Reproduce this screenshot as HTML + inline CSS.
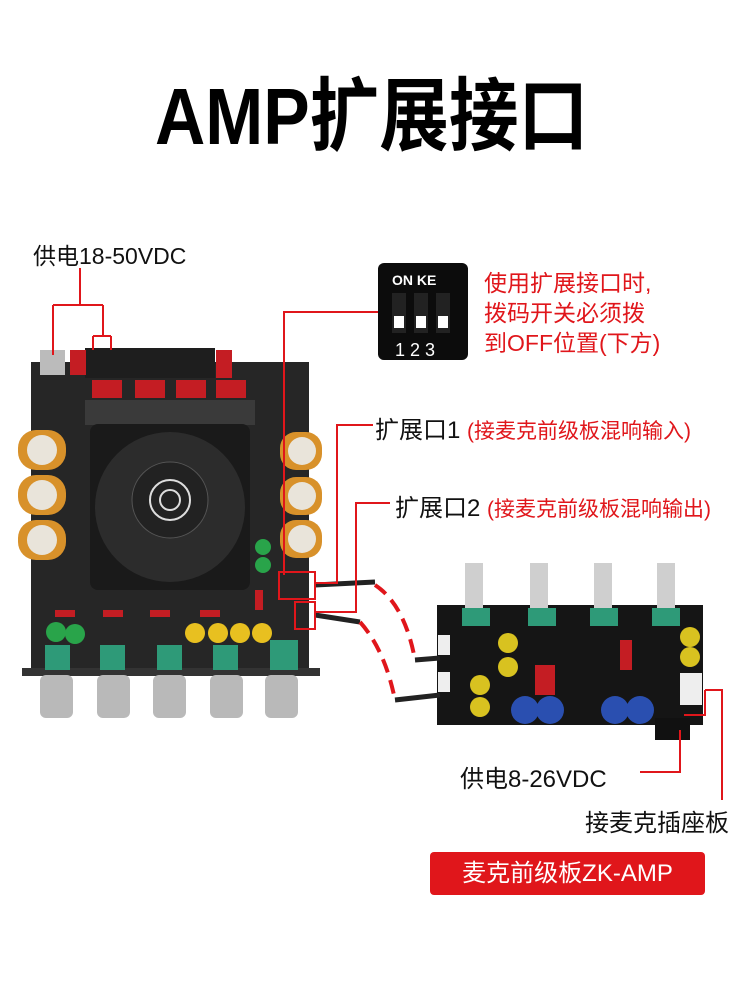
<!DOCTYPE html><html><head><meta charset="utf-8"><style>
body{margin:0;width:750px;height:1000px;background:#fff;position:relative;overflow:hidden;font-family:"Liberation Sans","Noto Sans CJK SC",sans-serif}
.t{position:absolute;white-space:nowrap}
</style></head><body>
<div class="t" style="left:155px;top:52px;font-size:80px;font-weight:bold;color:#000;transform:scaleX(0.87);transform-origin:0 0">AMP扩展接口</div>
<div class="t" style="left:33px;top:237px;font-size:23px;color:#111">供电18-50VDC</div>
<div class="t" style="left:484px;top:268px;font-size:23px;line-height:30px;color:#e0161b">使用扩展接口时,<br>拨码开关必须拨<br>到OFF位置(下方)</div>
<div class="t" style="left:375px;top:410px;font-size:24px;color:#111">扩展口1 <span style="color:#e0161b;font-size:21px">(接麦克前级板混响输入)</span></div>
<div class="t" style="left:395px;top:488px;font-size:24px;color:#111">扩展口2 <span style="color:#e0161b;font-size:21px">(接麦克前级板混响输出)</span></div>
<div class="t" style="left:460px;top:759px;font-size:24px;color:#111">供电8-26VDC</div>
<div class="t" style="left:585px;top:803px;font-size:24px;color:#111">接麦克插座板</div>
<div class="t" style="left:430px;top:852px;width:275px;height:43px;background:#e0161b;border-radius:4px;color:#fff;font-size:24px;line-height:43px;text-align:center">麦克前级板ZK-AMP</div>
<svg width="750" height="1000" style="position:absolute;left:0;top:0">
<rect x="378" y="263" width="90" height="97" rx="6" fill="#0c0c0c"/>
<text x="392" y="285" fill="#fff" font-size="14" font-family="Liberation Sans" font-weight="bold">ON KE</text>
<rect x="392" y="293" width="14" height="40" fill="#222"/><rect x="414" y="293" width="14" height="40" fill="#222"/><rect x="436" y="293" width="14" height="40" fill="#222"/>
<rect x="394" y="316" width="10" height="12" fill="#fff"/><rect x="416" y="316" width="10" height="12" fill="#fff"/><rect x="438" y="316" width="10" height="12" fill="#fff"/>
<text x="395" y="356" fill="#fff" font-size="18" font-family="Liberation Sans">1 2 3</text>
<rect x="31" y="362" width="278" height="308" fill="#262626"/>
<rect x="22" y="668" width="298" height="8" fill="#333"/>
<rect x="85" y="348" width="130" height="30" fill="#1e1e1e"/>
<rect x="70" y="350" width="16" height="25" fill="#c41d23"/><rect x="216" y="350" width="16" height="28" fill="#c41d23"/>
<rect x="92" y="380" width="30" height="18" fill="#c41d23"/><rect x="135" y="380" width="30" height="18" fill="#c41d23"/><rect x="176" y="380" width="30" height="18" fill="#c41d23"/><rect x="216" y="380" width="30" height="18" fill="#c41d23"/>
<rect x="40" y="350" width="25" height="25" fill="#bbb"/>
<rect x="85" y="400" width="170" height="25" fill="#3a3a3a"/>
<rect x="90" y="424" width="160" height="166" rx="8" fill="#1a1a1a"/>
<circle cx="170" cy="507" r="75" fill="#2c2c2c"/><circle cx="170" cy="500" r="38" fill="#222" stroke="#555"/>
<circle cx="170" cy="500" r="20" fill="none" stroke="#ddd" stroke-width="2"/><circle cx="170" cy="500" r="10" fill="none" stroke="#ddd" stroke-width="2"/>
<g fill="#d8912a"><rect x="18" y="430" width="48" height="40" rx="18"/><rect x="18" y="475" width="48" height="40" rx="18"/><rect x="18" y="520" width="48" height="40" rx="18"/>
<rect x="280" y="432" width="42" height="38" rx="16"/><rect x="280" y="477" width="42" height="38" rx="16"/><rect x="280" y="520" width="42" height="38" rx="16"/></g>
<g fill="#e9e4da"><circle cx="42" cy="450" r="15"/><circle cx="42" cy="495" r="15"/><circle cx="42" cy="540" r="15"/><circle cx="302" cy="451" r="14"/><circle cx="302" cy="496" r="14"/><circle cx="302" cy="539" r="14"/></g>
<g fill="#29a44a"><circle cx="56" cy="632" r="10"/><circle cx="75" cy="634" r="10"/><circle cx="263" cy="547" r="8"/><circle cx="263" cy="565" r="8"/></g>
<g fill="#e8c020"><circle cx="195" cy="633" r="10"/><circle cx="218" cy="633" r="10"/><circle cx="240" cy="633" r="10"/><circle cx="262" cy="633" r="10"/></g>
<g fill="#2e9a78"><rect x="45" y="645" width="25" height="25"/><rect x="100" y="645" width="25" height="25"/><rect x="157" y="645" width="25" height="25"/><rect x="213" y="645" width="25" height="25"/><rect x="270" y="640" width="28" height="30"/></g>
<g fill="#c41d23"><rect x="55" y="610" width="20" height="7"/><rect x="103" y="610" width="20" height="7"/><rect x="150" y="610" width="20" height="7"/><rect x="200" y="610" width="20" height="7"/><rect x="255" y="590" width="8" height="20"/></g>
<g fill="#b9b9b9"><rect x="40" y="675" width="33" height="43" rx="6"/><rect x="97" y="675" width="33" height="43" rx="6"/><rect x="153" y="675" width="33" height="43" rx="6"/><rect x="210" y="675" width="33" height="43" rx="6"/><rect x="265" y="675" width="33" height="43" rx="6"/></g>
<rect x="437" y="605" width="266" height="120" fill="#151515"/>
<g fill="#cfcfcf"><rect x="465" y="563" width="18" height="48"/><rect x="530" y="563" width="18" height="48"/><rect x="594" y="563" width="18" height="48"/><rect x="657" y="563" width="18" height="48"/></g>
<g fill="#2e9a78"><rect x="462" y="608" width="28" height="18"/><rect x="528" y="608" width="28" height="18"/><rect x="590" y="608" width="28" height="18"/><rect x="652" y="608" width="28" height="18"/></g>
<g fill="#d8c220"><circle cx="508" cy="643" r="10"/><circle cx="508" cy="667" r="10"/><circle cx="480" cy="685" r="10"/><circle cx="480" cy="707" r="10"/><circle cx="690" cy="637" r="10"/><circle cx="690" cy="657" r="10"/></g>
<g fill="#2a4fb0"><circle cx="525" cy="710" r="14"/><circle cx="550" cy="710" r="14"/><circle cx="615" cy="710" r="14"/><circle cx="640" cy="710" r="14"/></g>
<g fill="#c41d23"><rect x="535" y="665" width="20" height="30"/><rect x="620" y="640" width="12" height="30"/></g>
<rect x="680" y="673" width="22" height="32" fill="#eee"/><rect x="438" y="635" width="12" height="20" fill="#eee"/><rect x="438" y="672" width="12" height="20" fill="#eee"/>
<rect x="655" y="718" width="35" height="22" fill="#111"/>
<path d="M315 585 L375 582" stroke="#222" stroke-width="5"/><path d="M315 615 L360 622" stroke="#222" stroke-width="5"/>
<path d="M415 660 L440 658" stroke="#222" stroke-width="5"/><path d="M395 700 L440 695" stroke="#222" stroke-width="5"/>
<g fill="none" stroke="#e0161b" stroke-width="2">
<path d="M375 585 Q405 605 415 660" stroke-width="4" stroke-dasharray="14 8"/>
<path d="M360 622 Q385 650 395 700" stroke-width="4" stroke-dasharray="14 8"/>
<path d="M80 268 V305 M53 305 H103 M53 305 V355 M103 305 V336 M93 336 H111 M93 336 V350 M111 336 V350"/>
<path d="M378 312 H284 V575"/>
<path d="M373 425 H337 V583 H315"/>
<path d="M390 503 H356 V612 H315"/>
<rect x="279" y="572" width="36" height="27"/><rect x="295" y="602" width="20" height="27"/>
<path d="M680 730 V772 H640"/>
<path d="M705 690 H722 V800 M705 690 V715 H684"/>
</g>
</svg>
</body></html>
